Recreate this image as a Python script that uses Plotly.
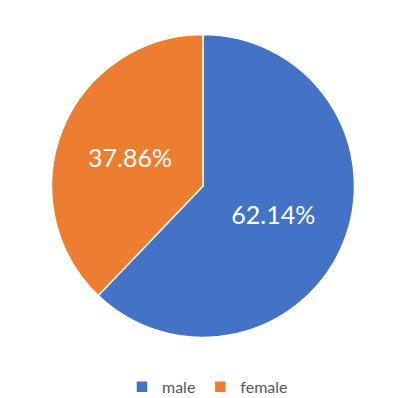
import plotly.graph_objects as go

labels = ["male", "female"]
values = [62.14, 37.86]
colors = ["#4472C4", "#ED7D31"]

W, H = 415, 398
cx, cy, r = 203, 186, 151.5

fig = go.Figure(go.Pie(
    labels=labels,
    values=values,
    sort=False,
    direction="clockwise",
    rotation=0,
    marker=dict(colors=colors, line=dict(color="white", width=1.5)),
    texttemplate="%{percent:.2%}",
    textposition="inside",
    insidetextorientation="horizontal",
    textfont=dict(family="Lato", size=25, color="white"),
    domain=dict(x=[(cx - r) / W, (cx + r) / W], y=[(H - cy - r) / H, (H - cy + r) / H]),
    hoverinfo="label+percent",
))

fig.update_layout(
    width=W, height=H,
    margin=dict(l=0, r=0, t=0, b=0, autoexpand=False),
    paper_bgcolor="white",
    showlegend=True,
    legend=dict(orientation="h", x=0.5, xanchor="center", y=0.028, yanchor="middle",
                font=dict(family="Lato", size=16, color="#595959"),
                itemwidth=30),
)

fig.write_html("out.html")
